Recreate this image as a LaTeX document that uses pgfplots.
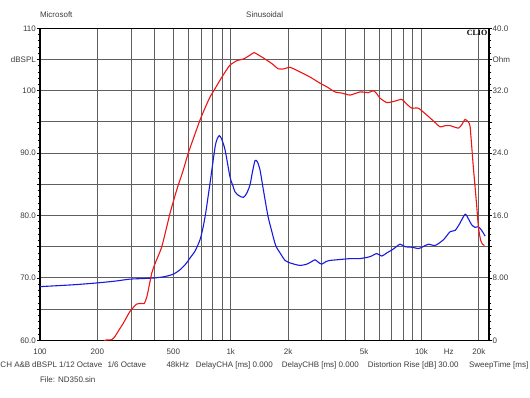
\documentclass[border=0pt]{standalone}
\usepackage{pgfplots}
\pgfplotsset{compat=1.18}
\usepackage{fontspec}
\setmainfont{Liberation Sans}
\newfontfamily\cliofont{Liberation Serif}
\definecolor{txt}{RGB}{60,60,60}
\definecolor{gridc}{RGB}{95,95,95}
\definecolor{cred}{RGB}{238,20,20}
\definecolor{cblue}{RGB}{25,25,225}
\begin{document}
\begin{tikzpicture}
\useasboundingbox (0pt,0pt) rectangle (530pt,398pt);
\begin{axis}[
  at={(40pt,57.7pt)}, anchor=south west, scale only axis,
  width=449pt, height=312pt,
  xmode=log, xmin=100, xmax=22600, ymin=60, ymax=110,
  xtick={100,200,500,1000,2000,5000,10000,20000},
  xticklabels={100,200,500,1k,2k,5k,10k,20k},
  minor xtick={300,400,600,700,800,900,3000,4000,6000,7000,8000,9000},
  xmajorgrids, xminorgrids,
  extra x ticks={13900}, extra x tick labels={Hz}, extra x tick style={grid=none},
  xtick style={draw=none},
  ytick={60,65,...,110},
  yticklabels={60.0,,70.0,,80.0,,90.0,,100,dBSPL,110},
  minor y tick num=4,
  ymajorgrids,
  ytick pos=left, ytick align=outside,
  major tick length=3pt, minor tick length=2.5pt,
  grid style={gridc, line width=0.9pt},
  minor grid style={gridc, line width=0.9pt},
  axis line style={black, line width=1.2pt},
  ytick style={black, line width=0.6pt},
  xticklabel style={anchor=center, yshift=-11.4pt, inner sep=0pt},
  yticklabel style={anchor=east, inner sep=0pt, xshift=-1pt},
  tick label style={font=\fontsize{8}{9}\selectfont, text=txt},
]
\addplot[cblue, line width=1.1pt, smooth, tension=0.4] coordinates {
(100,68.6) (150,68.9) (200,69.2) (250,69.5) (296,69.8) (350,69.9) (400,70.0)
(450,70.2) (500,70.6) (542,71.3) (580,72.2) (612,73.2) (650,74.3) (690,76.1)
(715,78.0) (740,80.5) (779,85.2) (828,91.0) (850,92.3) (871,92.8) (895,92.3)
(934,90.5) (991,86.2) (1025,84.8) (1053,83.8) (1100,83.2) (1165,82.9) (1210,83.5)
(1262,84.9) (1300,87.0) (1341,88.8) (1380,88.6) (1424,87.3) (1470,84.8) (1514,82.5)
(1570,79.8) (1640,77.5) (1720,75.2) (1814,74.0) (1926,72.8) (2004,72.5) (2150,72.2)
(2309,72.0) (2503,72.2) (2650,72.6) (2768,72.9) (2880,72.5) (3000,72.2) (3150,72.6)
(3317,72.8) (3600,72.9) (3895,73.0) (4300,73.1) (4764,73.1) (5370,73.4) (5830,73.9)
(6194,73.5) (6577,74.0) (7100,74.6) (7720,75.4) (8200,75.0) (9000,74.9) (9632,74.7)
(10200,75.0) (10870,75.4) (11790,75.2) (13030,76.1) (14125,77.4) (15000,77.6)
(15800,78.6) (16930,80.2) (17600,79.5) (18350,78.5) (19100,78.1) (19880,78.2)
(20700,77.6) (21560,76.7)
};
\addplot[cred, line width=1.1pt, smooth, tension=0.35] coordinates {
(212,59.3) (219,60.0) (238,60.1) (247,60.6) (260,61.7) (273,62.7) (296,64.6)
(321,65.8) (340,65.9) (352,65.9) (362,66.8) (370,68.1) (385,70.7) (401,72.3)
(435,75.0) (481,80.4) (521,84.1) (560,87.0) (599,90.0) (645,92.8) (690,95.3)
(735,97.3) (779,99.0) (830,100.4) (879,101.7) (935,103.0) (991,104.1) (1075,104.8)
(1170,105.1) (1262,105.7) (1325,106.1) (1420,105.6) (1545,104.9) (1650,104.3)
(1777,103.5) (1900,103.5) (2046,103.75) (2309,103.0) (2600,102.2) (2940,101.2)
(3200,100.6) (3524,99.8) (3850,99.6) (4224,99.3) (4764,99.8) (5266,99.7)
(5595,100.0) (5800,99.6) (6067,98.8) (6577,98.1) (7200,98.3) (7883,98.6)
(8400,97.8) (8896,97.2) (9632,97.2) (10660,96.1) (11500,95.2) (12520,94.2)
(13300,94.4) (14125,94.4) (15615,94.0) (16300,94.6) (16930,95.4) (17600,95.0)
(17980,94.3) (18350,91.0) (18700,87.8) (19100,84.6) (19500,81.4) (19880,78.2)
(20400,76.1) (20900,75.4) (21380,75.2)
};
\end{axis}
\begin{axis}[
  at={(40pt,57.7pt)}, anchor=south west, scale only axis,
  width=449pt, height=312pt,
  xmode=log, xmin=100, xmax=22600, ymin=0, ymax=40,
  hide x axis, axis y line*=right,
  ytick={0,4,...,40},
  yticklabels={0,,8.00,,16.0,,24.0,,32.0,Ohm,40.0},
  minor y tick num=4,
  ytick align=outside,
  major tick length=3pt, minor tick length=2.5pt,
  axis line style={black, line width=1.2pt},
  ytick style={black, line width=0.6pt},
  yticklabel style={anchor=west, inner sep=0pt, xshift=0.5pt},
  tick label style={font=\fontsize{8}{9}\selectfont, text=txt},
]
\addplot[draw=none] coordinates {(1000,10)};
\end{axis}
\begin{scope}[every node/.style={font=\fontsize{8}{9}\selectfont, text=txt, inner sep=0pt}]
\node[anchor=west] at (39.8pt,383.7pt) {Microsoft};
\node at (264.7pt,383.7pt) {Sinusoidal};
\node[anchor=west] at (0.3pt,33pt) {CH A\&B};
\node[anchor=west] at (32pt,33pt) {dBSPL};
\node[anchor=west] at (59pt,33pt) {1/12 Octave};
\node[anchor=west] at (107.3pt,33pt) {1/6 Octave};
\node[anchor=west] at (166.3pt,33pt) {48kHz};
\node[anchor=west] at (195.6pt,33pt) {DelayCHA [ms] 0.000};
\node[anchor=west] at (281.6pt,33pt) {DelayCHB [ms] 0.000};
\node[anchor=west] at (367.6pt,33pt) {Distortion Rise [dB] 30.00};
\node[anchor=west] at (468.8pt,33pt) {SweepTime [ms]};
\node[anchor=west] at (39.8pt,18.7pt) {File: ND350.sin};
\node[anchor=east, text=black, font=\cliofont\bfseries\fontsize{8}{9}\selectfont] at (487.5pt,365.3pt) {CLIO};
\end{scope}
\end{tikzpicture}
\end{document}
